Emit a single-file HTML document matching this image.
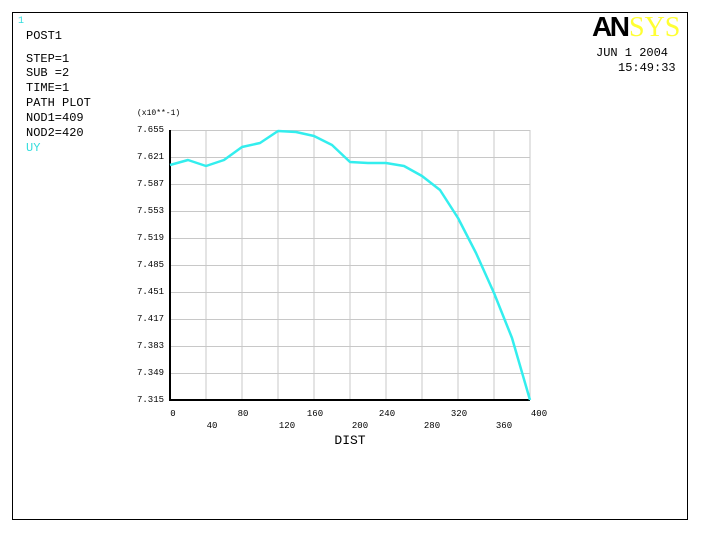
<!DOCTYPE html>
<html><head><style>
body{margin:0;background:#fff;width:713px;height:532px;overflow:hidden}
text{font-family:"Liberation Mono",monospace;fill:#000}
.l{font-size:12px}.t{font-size:9px}.s{font-size:8px}.d{font-size:13px}.h{font-size:12px}
</style></head><body>
<svg width="713" height="532" viewBox="0 0 713 532">
<rect x="12.5" y="12.5" width="675" height="507" fill="none" stroke="#000" stroke-width="1"/>
<text class="t" x="18" y="23" style="fill:#33dddd;font-size:10px">1</text>
<g class="l">
<text class="l" x="26" y="39">POST1</text>
<text class="l" x="26" y="62">STEP=1</text>
<text class="l" x="26" y="76">SUB =2</text>
<text class="l" x="26" y="91">TIME=1</text>
<text class="l" x="26" y="106">PATH PLOT</text>
<text class="l" x="26" y="121">NOD1=409</text>
<text class="l" x="26" y="136">NOD2=420</text>
<text class="l" x="26" y="151" style="fill:#33dddd">UY</text>
</g>
<text x="592" y="36" style="font-family:'Liberation Sans',sans-serif;font-weight:900;font-size:28px;letter-spacing:-2.5px">AN</text>
<text x="629" y="36" style="font-family:'Liberation Serif',serif;font-size:28px;fill:#ffff33">SYS</text>
<text class="h" x="596" y="56">JUN  1 2004</text>
<text class="h" x="618" y="71">15:49:33</text>
<g stroke="#c8c8c8" stroke-width="1">
<path d="M206 130V400M242 130V400M278 130V400M314 130V400M350 130V400M386 130V400M422 130V400M458 130V400M494 130V400M530 130V400"/>
<path d="M170 130.5H530M170 157.5H530M170 184.5H530M170 211.5H530M170 238.5H530M170 265.5H530M170 292.5H530M170 319.5H530M170 346.5H530M170 373.5H530"/>
</g>
<path d="M170 130V400H530" fill="none" stroke="#000" stroke-width="2"/>
<text class="s" x="137" y="115">(x10**-1)</text>
<g>
<text class="t" x="137" y="132">7.655</text><text class="t" x="137" y="159">7.621</text><text class="t" x="137" y="186">7.587</text>
<text class="t" x="137" y="213">7.553</text><text class="t" x="137" y="240">7.519</text><text class="t" x="137" y="267">7.485</text>
<text class="t" x="137" y="294">7.451</text><text class="t" x="137" y="321">7.417</text><text class="t" x="137" y="348">7.383</text>
<text class="t" x="137" y="375">7.349</text><text class="t" x="137" y="402">7.315</text>
</g>
<g text-anchor="middle">
<text class="t" x="173" y="416">0</text><text class="t" x="243" y="416">80</text><text class="t" x="315" y="416">160</text><text class="t" x="387" y="416">240</text><text class="t" x="459" y="416">320</text><text class="t" x="539" y="416">400</text>
<text class="t" x="212" y="428">40</text><text class="t" x="287" y="428">120</text><text class="t" x="360" y="428">200</text><text class="t" x="432" y="428">280</text><text class="t" x="504" y="428">360</text>
</g>
<text class="d" x="350" y="444" text-anchor="middle">DIST</text>
<polyline fill="none" stroke="#33eeee" stroke-width="2.5" stroke-linejoin="round" points="170,165 188,160 206,166 224,160 242,147 260,143 278,131 296,132 314,136 332,145 350,162 368,163 386,163 404,166 422,176 440,190 458,218 476,253 494,293 512,338 530,400"/>
</svg>
</body></html>
